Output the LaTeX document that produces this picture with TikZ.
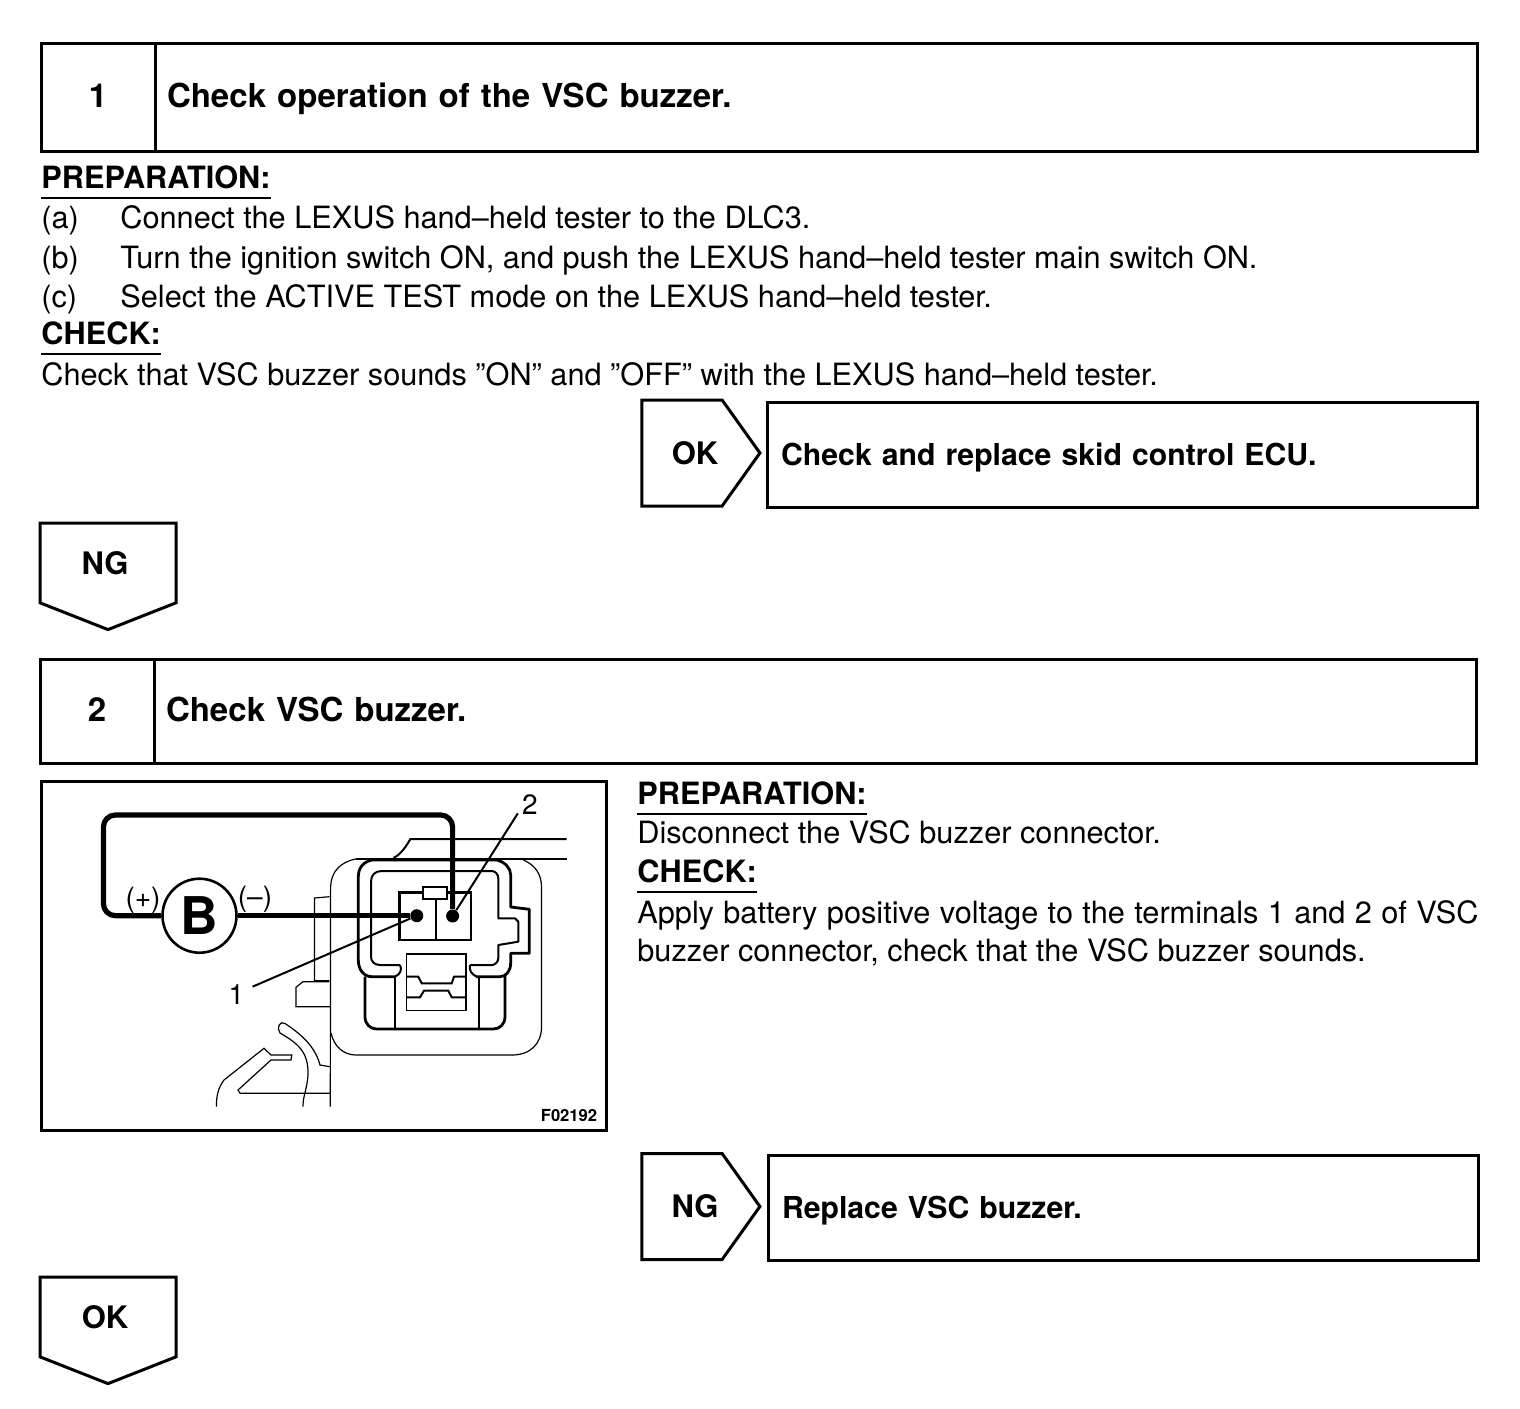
\documentclass[tikz,border=0pt]{standalone}
\usepackage{fontspec}
\setmainfont{TeX Gyre Heros}
\usepackage{tikz}
\usetikzlibrary{positioning,shapes.symbols}
\newcommand{\bodysize}{\fontsize{15.35}{19}\selectfont}
\newcommand{\stepsize}{\fontsize{16.5}{20}\selectfont\bfseries}
\newcommand{\tagsize}{\fontsize{15.5}{19}\selectfont\bfseries}
\newcommand{\resultsize}{\fontsize{15.1}{19}\selectfont\bfseries}

\begin{document}
\begin{tikzpicture}[
  x=0.5pt, y=-0.5pt,
  frame/.style={draw, line width=1.5pt, outer sep=0pt},
  numbox/.style={frame, minimum width=57pt, minimum height=54pt, text height=12pt, text depth=2pt, font=\stepsize},
  stepbox/.style={frame, minimum width=661pt, minimum height=54pt, text width=649pt, inner xsep=6pt, text height=12pt, text depth=2pt, align=left, font=\stepsize},
  resultbox/.style={frame, minimum width=355pt, minimum height=52.5pt, text width=341pt, inner xsep=7pt, text height=11pt, text depth=0pt, align=left, font=\resultsize},
  tagright/.style={frame, signal, signal to=east, signal pointer angle=109, minimum width=59pt, minimum height=53pt, inner sep=0pt, font=\tagsize},
  tagdown/.style={frame, signal, signal to=south, signal pointer angle=137, minimum width=68pt, minimum height=45pt, inner sep=0pt, font=\tagsize},
  txt/.style={anchor=base west, inner sep=0pt, font=\bodysize},
  head/.style={txt, font=\bodysize\bfseries},
  uline/.style={line width=0.8pt},
  thinl/.style={line width=0.6pt},
  medl/.style={line width=1pt},
  thickl/.style={line width=1.4pt},
  wire/.style={line width=2.6pt, rounded corners=6pt},
  term/.style={circle, fill=black, inner sep=0pt, minimum size=6.5pt},
  lbl/.style={inner sep=0pt, font=\fontsize{14}{16}\selectfont}
]
\useasboundingbox (0,0) rectangle (1520,1408);

\node[numbox] (numone) at (98,97) {1};
\node[stepbox, right=0pt of numone] (stepone) {Check operation of the VSC buzzer.};

\node[head] (prepone) at (41,188) {PREPARATION:};
\node[txt] (aone) at (41,228) {(a)};
\node[txt] (atxt) at (120,228) {Connect the LEXUS hand–held tester to the DLC3.};
\node[txt] (bone) at (41,268) {(b)};
\node[txt] (btxt) at (120,268) {Turn the ignition switch ON, and push the LEXUS hand–held tester main switch ON.};
\node[txt] (cone) at (41,307) {(c)};
\node[txt] (ctxt) at (120,307) {Select the ACTIVE TEST mode on the LEXUS hand–held tester.};
\node[head] (checkone) at (41,344) {CHECK:};
\node[txt] (checktxt) at (41,385) {Check that VSC buzzer sounds ”ON” and ”OFF” with the LEXUS hand–held tester.};
\draw[uline] ([yshift=-4.5pt]prepone.south west) -- ([yshift=-4.5pt]prepone.south east);
\draw[uline] ([yshift=-4.5pt]checkone.south west) -- ([yshift=-4.5pt]checkone.south east);

\node[tagright] (okone) at (682,453) {\hspace*{13pt}OK};
\node[resultbox] (ecu) at (1122,454.5) {Check and replace skid control ECU.};
\node[tagdown] (ngone) at (108,563) {NG\hspace*{3pt}};

\node[numbox, minimum height=52pt] (numtwo) at (97,711) {2};
\node[stepbox, minimum height=52pt, right=0pt of numtwo] (steptwo) {Check VSC buzzer.};

\node[frame, minimum width=282.5pt, minimum height=174.5pt] (figbox) at (323.5,955.5) {};

\node[head] (preptwo) at (637,804) {PREPARATION:};
\node[txt] (disc) at (637,843) {Disconnect the VSC buzzer connector.};
\node[head] (checktwo) at (637,882) {CHECK:};
\node[txt, text width=420.5pt, align=justify] (apply) at (637,923) {Apply battery positive voltage to the terminals 1 and 2 of VSC buzzer connector, check that the VSC buzzer sounds.};
\draw[uline] ([yshift=-4.5pt]preptwo.south west) -- ([yshift=-4.5pt]preptwo.south east);
\draw[uline] ([yshift=-4.5pt]checktwo.south west) -- ([yshift=-4.5pt]checktwo.south east);

\node[tagright] (ngtwo) at (682,1206.5) {\hspace*{13pt}NG};
\node[resultbox] (replace) at (1123,1207.5) {Replace VSC buzzer.};
\node[tagdown] (oktwo) at (108,1317) {OK\hspace*{3pt}};

% connector outlines
\draw[thinl] (355.8,859) .. controls (340,862) and (331,872) .. (330.6,887) -- (330.3,1106.7);
\draw[thinl] (523.4,860) .. controls (535,865) and (541.5,874) .. (541.5,887) -- (541.5,1027)
  .. controls (541.5,1044) and (530,1055) .. (512,1055) -- (356,1055)
  .. controls (343,1055) and (334,1046) .. (331,1033);
\draw[medl] (355.8,859) -- (566.7,859);
\draw[medl] (566.7,839) -- (410.4,839) .. controls (405,848) and (401,854) .. (393.5,858);
\draw[thickl, line join=round] (371.7,860) .. controls (363,862) and (358.3,868) .. (358.3,877) -- (358.3,960)
  .. controls (358.3,970) and (364,976.7) .. (372,976.7) -- (395,976.7);
\draw[thickl, line join=round] (371.7,860) -- (496.7,860) .. controls (505,862) and (510.7,868) .. (510.7,875)
  -- (510.7,907) -- (529.3,909.3) -- (529.3,953.3) -- (510.7,953.3) -- (510.7,963)
  .. controls (510.7,971) and (506,976.7) .. (500,976.7) -- (476,976.7);
\draw[medl, line join=round] (400,965) -- (380,965) .. controls (374,965) and (371,961) .. (371,956.7) -- (371,881.7)
  .. controls (371,875) and (375,871) .. (381.7,871) -- (491.7,871) .. controls (495,871) and (498.3,874) .. (498.3,878.3)
  -- (498.3,918.3) -- (515,918.3) -- (518.3,921.7) -- (518.3,941.7) -- (498.3,945) -- (498.3,958)
  .. controls (498.3,962) and (495,965) .. (491.7,965) -- (470,965);
\draw[medl] (400,965) .. controls (402,969) and (401,974) .. (395,976.7);
\draw[medl] (470,965) .. controls (469,970) and (471,974) .. (476.7,976.7);
\draw[thickl, line join=round] (365,976.7) -- (365,1016.7) .. controls (365,1024) and (370,1029) .. (376.7,1029)
  -- (493.3,1029) .. controls (500,1029) and (505,1024) .. (505,1016.7) -- (505,975);
\draw[thinl] (395,976.7) -- (395,1028);
\draw[thinl] (479,976.7) -- (479,1028);
% terminals
\draw[thickl] (399.3,892.7) rectangle (471,940);
\draw[thickl] (436,899) -- (436,940);
\draw[medl, fill=white] (422.7,887.3) rectangle (446.7,899.3);
% latch
\draw[thinl] (406.7,954) rectangle (466,1010.7);
\draw[medl] (406.7,976.7) -- (418.3,976.7) -- (421.7,983.3) -- (451.7,983.3) -- (454,976.7) -- (466,976.7);
\draw[medl] (406.7,997.3) -- (420,997.3) -- (424,990.7) -- (448.3,990.7) -- (451.7,997.3) -- (466,997.3);
% bracket and lower part
\draw[thinl] (329.4,896.7) -- (314.4,898) -- (314.4,980.7) -- (329.4,980.7);
\draw[thinl] (329.4,981.7) -- (303,981.7) -- (296,987.3) -- (296,1006.7) -- (330,1006.7);
\draw[thinl] (330,1066.7) -- (320,1065) .. controls (315,1045) and (298,1032) .. (285,1023.5)
  .. controls (280,1020) and (276,1028) .. (280,1033) .. controls (295,1042) and (309,1050) .. (308,1075)
  .. controls (307,1090) and (303,1095) .. (303,1106.7);
\draw[thinl] (330,1093.3) -- (240,1093.3) -- (238,1090) -- (271,1060) -- (291,1060) -- (291.8,1055) -- (271,1055)
  -- (264,1048.3) -- (224,1080) .. controls (218,1088) and (216.4,1096) .. (216.4,1106.7);

% meter and wires
\node[draw, circle, line width=1.3pt, minimum size=37pt, inner sep=0pt, font=\fontsize{26}{30}\selectfont\bfseries] (batt) at (199.5,915.7) {B};
\node[term] (termone) at (416.8,915.7) {};
\node[term] (termtwo) at (452.6,916) {};
\coordinate (wiretop) at (103.4,815);
\draw[wire] (batt.west) -| (wiretop) -| (termtwo);
\draw[line width=2.6pt] (batt.east) -- (termone);
\node[lbl] (plus) at (143,900) {(+)};
\node[lbl] (minus) at (255,899) {(–)};
\node[lbl] (lblone) at (236.4,995) {1};
\node[lbl] (lbltwo) at (530,805) {2};
\draw[medl] (lblone.north east) ++(4pt,-1pt) -- (termone);
\draw[medl] (lbltwo.south west) ++(-2pt,1pt) -- (termtwo);
\node[inner sep=0pt, font=\fontsize{8.3}{10}\selectfont\bfseries] (figid) at (569,1116) {F02192};
\end{tikzpicture}
\end{document}
